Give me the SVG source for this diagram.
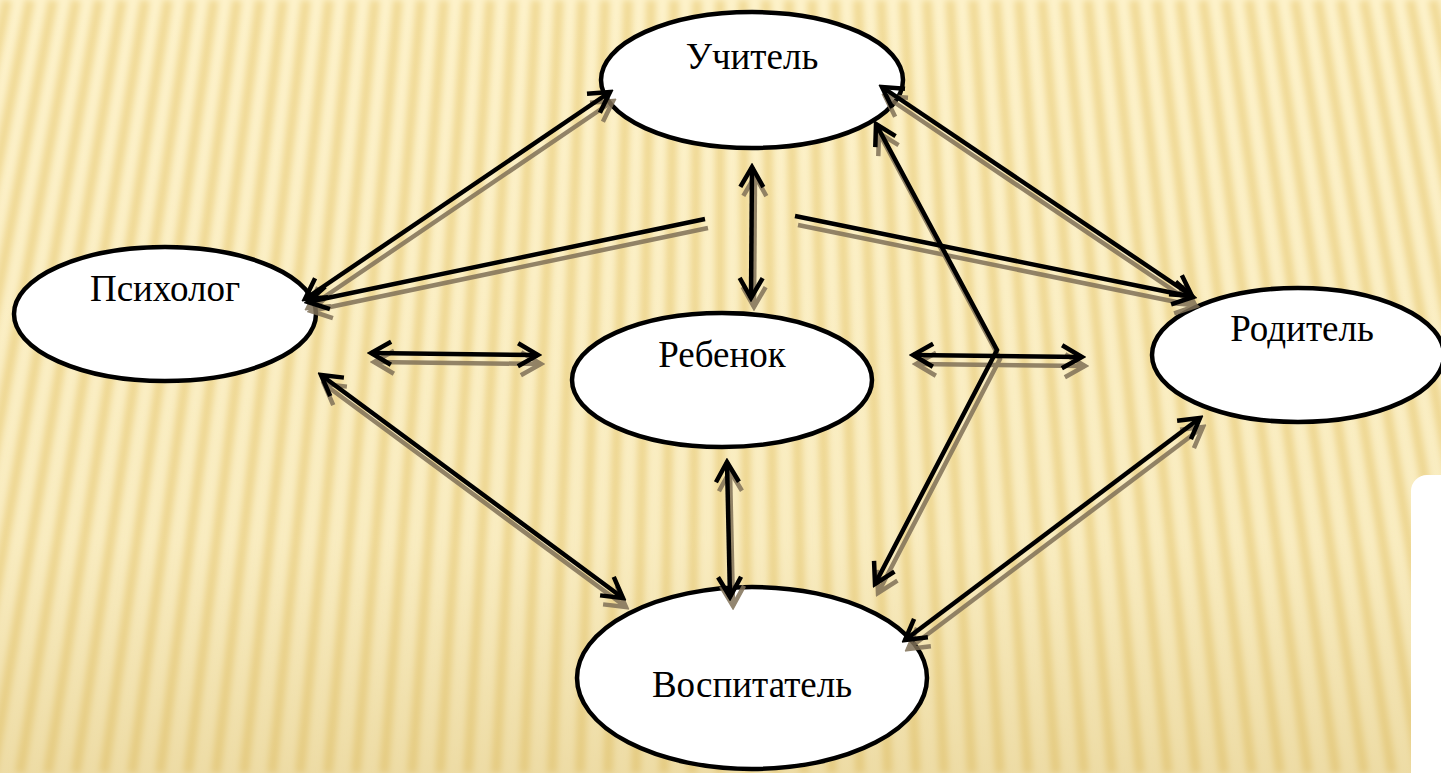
<svg xmlns="http://www.w3.org/2000/svg" xmlns:xlink="http://www.w3.org/1999/xlink" width="1441" height="773" viewBox="0 0 1441 773">
<style>
.node ellipse{fill:#fff;stroke:#000;stroke-width:4.5}
.node text{font-family:"Liberation Serif","Times New Roman",serif;font-size:37px;fill:#000;text-anchor:middle}
.conn path{fill:none;stroke:#000;stroke-width:4.5}
</style>
<defs>
<marker id="ah" viewBox="-26 -15 30 30" refX="0" refY="0" markerWidth="30" markerHeight="30" markerUnits="userSpaceOnUse" orient="auto-start-reverse">
<path d="M-20,-11.5 L0,0 L-20,11.5" fill="none" stroke="#000" stroke-width="4.5"/>
</marker>
<filter id="blur" x="-5%" y="-5%" width="110%" height="110%"><feGaussianBlur stdDeviation="3"/></filter>
<filter id="sh" filterUnits="userSpaceOnUse" x="-50" y="-50" width="1600" height="900" color-interpolation-filters="sRGB">
<feColorMatrix type="matrix" values="0 0 0 0 0.5  0 0 0 0 0.44  0 0 0 0 0.34  0 0 0 0.85 0"/>
</filter>
<linearGradient id="bot" x1="0" y1="0" x2="0" y2="1">
<stop offset="0" stop-color="#c9a84f" stop-opacity="0"/>
<stop offset="0.7" stop-color="#c9a84f" stop-opacity="0.08"/>
<stop offset="1" stop-color="#c9a84f" stop-opacity="0.3"/>
</linearGradient>
</defs>
<g id="background">
<rect width="1441" height="773" fill="#fdf2ca"/>
<path filter="url(#blur)" stroke="#f1da96" stroke-width="10" fill="none" d="M-16 0L-176 773M7 0L-148 773M30 0L-120 773M53 0L-92 773M76 0L-64 773M99 0L-36 773M122 0L-8 773M145 0L20 773M168 0L48 773M191 0L76 773M214 0L104 773M237 0L132 773M260 0L160 773M283 0L188 773M306 0L216 773M329 0L244 773M352 0L272 773M375 0L300 773M398 0L328 773M421 0L356 773M444 0L384 773M467 0L412 773M490 0L440 773M513 0L468 773M536 0L496 773M559 0L524 773M582 0L552 773M605 0L580 773M628 0L608 773M651 0L636 773M674 0L664 773M697 0L692 773M720 0L720 773M743 0L748 773M766 0L776 773M789 0L804 773M812 0L832 773M835 0L860 773M858 0L888 773M881 0L916 773M904 0L944 773M927 0L972 773M950 0L1000 773M973 0L1028 773M996 0L1056 773M1019 0L1084 773M1042 0L1112 773M1065 0L1140 773M1088 0L1168 773M1111 0L1196 773M1134 0L1224 773M1157 0L1252 773M1180 0L1280 773M1203 0L1308 773M1226 0L1336 773M1249 0L1364 773M1272 0L1392 773M1295 0L1420 773M1318 0L1448 773M1341 0L1476 773M1364 0L1504 773M1387 0L1532 773M1410 0L1560 773M1433 0L1588 773M1456 0L1616 773"/>
<rect width="1441" height="773" fill="url(#bot)"/>
<rect x="1411" y="475" width="50" height="320" rx="16" fill="#fff"/>
</g>
<g id="nodes">
<g id="uchitel" class="node"><ellipse cx="752" cy="80" rx="151" ry="68"/><text x="752" y="69">Учитель</text></g>
<g id="psiholog" class="node"><ellipse cx="165" cy="314" rx="151" ry="67"/><text x="165" y="301">Психолог</text></g>
<g id="rebenok" class="node"><ellipse cx="722" cy="380" rx="150" ry="67"/><text x="722" y="367">Ребенок</text></g>
<g id="roditel" class="node"><ellipse cx="1298" cy="355" rx="146" ry="67"/><text x="1302" y="341">Родитель</text></g>
<g id="vospitatel" class="node"><ellipse cx="752" cy="678" rx="175" ry="91"/><text x="752" y="697">Воспитатель</text></g>
</g>
<use xlink:href="#connectors" href="#connectors" transform="translate(3,9)" filter="url(#sh)"/>
<g id="connectors" class="conn">
<path d="M305,299 L610,92" marker-start="url(#ah)" marker-end="url(#ah)"/>
<path d="M705,219 L308,302" marker-end="url(#ah)"/>
<path d="M795,216 L1193,297" marker-end="url(#ah)"/>
<path d="M882,87 L1192,296" marker-start="url(#ah)" marker-end="url(#ah)"/>
<path d="M876,124 L997,350 L875,584" marker-start="url(#ah)" marker-end="url(#ah)"/>
<path d="M752,167 L751,298" marker-start="url(#ah)" marker-end="url(#ah)"/>
<path d="M371,353 L538,355" marker-start="url(#ah)" marker-end="url(#ah)"/>
<path d="M913,355 L1082,357" marker-start="url(#ah)" marker-end="url(#ah)"/>
<path d="M321,375 L623,598" marker-start="url(#ah)" marker-end="url(#ah)"/>
<path d="M727,462 L730,597" marker-start="url(#ah)" marker-end="url(#ah)"/>
<path d="M905,640 L1200,418" marker-start="url(#ah)" marker-end="url(#ah)"/>
</g>
</svg>
